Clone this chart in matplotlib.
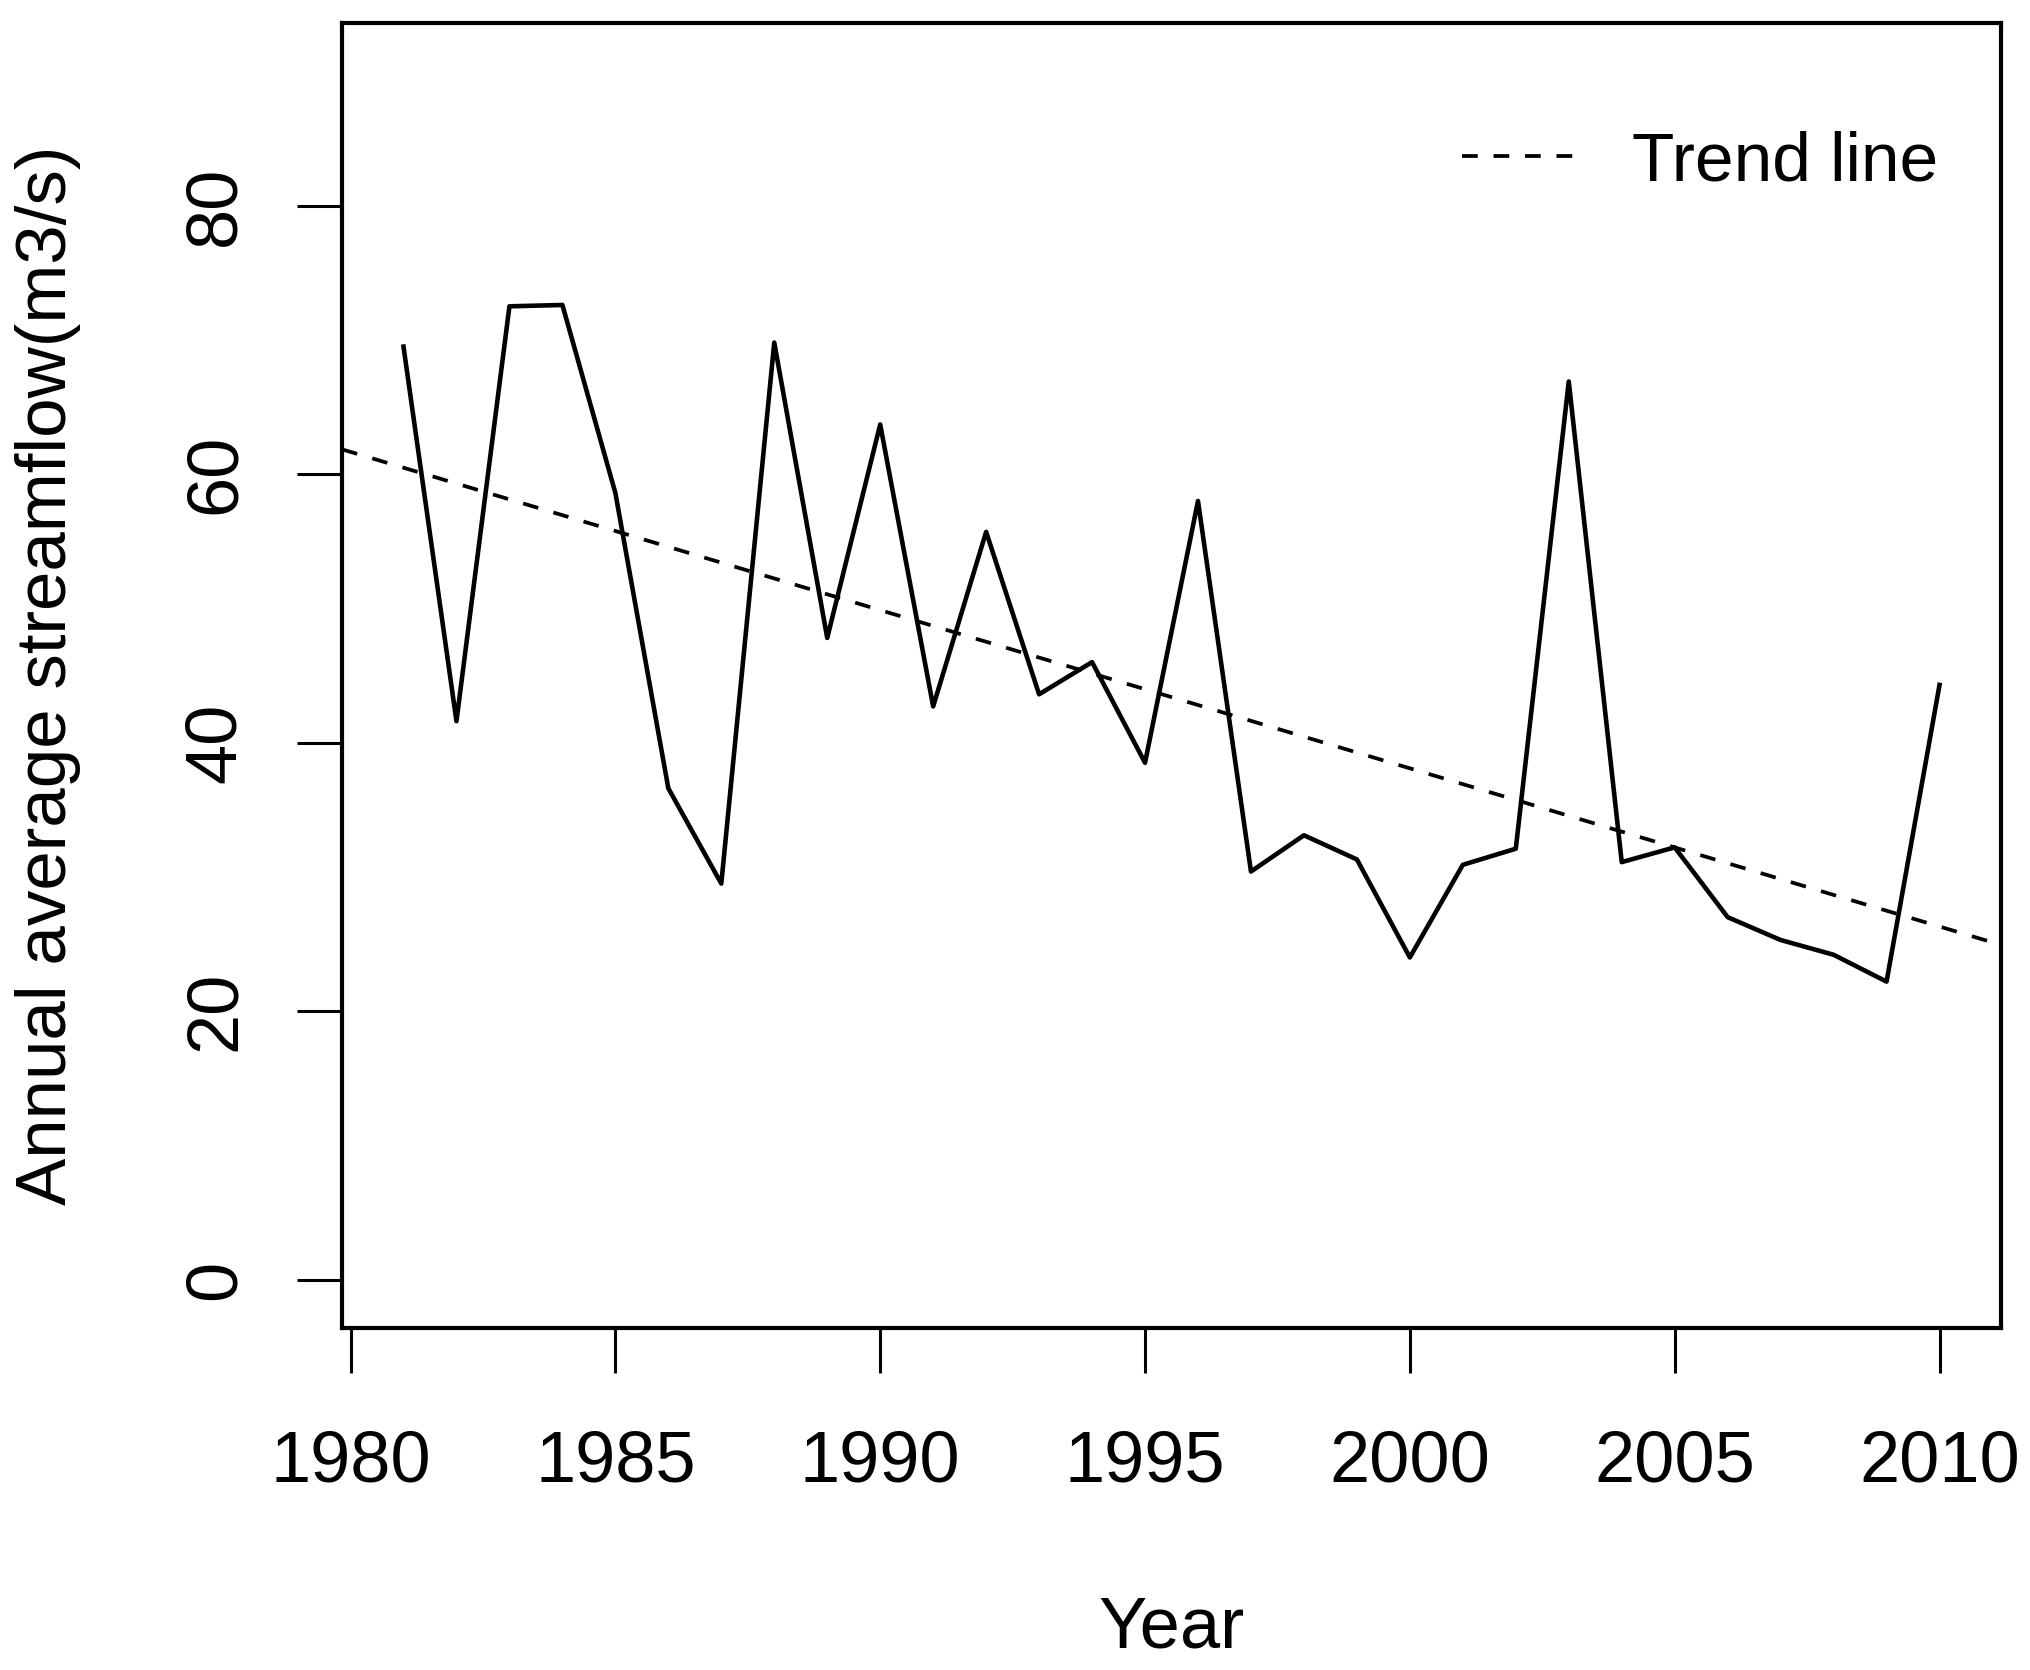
import numpy as np
import matplotlib.pyplot as plt

# annual average streamflow
years = np.arange(1981, 2011)
flow = [69.5, 41.6, 72.5, 72.6, 58.6, 36.6, 29.5, 69.8, 47.8, 63.7,
        42.7, 55.7, 43.6, 46.0, 38.5, 58.0, 30.4, 33.1, 31.3, 24.0,
        30.9, 32.1, 66.9, 31.1, 32.2, 27.0, 25.3, 24.2, 22.2, 44.3]
xticks = [1980, 1985, 1990, 1995, 2000, 2005, 2010]
yticks = [0, 20, 40, 60, 80]

plt.rcParams['font.family'] = ['Liberation Sans', 'DejaVu Sans']

fig = plt.figure(figsize=(20.3, 16.7), dpi=100)
ax = fig.add_axes([0.1685, 0.2048, 0.8172, 0.7814])

ax.plot(years, flow, color="black", lw=3.3)

# linear trend (least squares), drawn across the whole panel like abline
slope, icpt = np.polyfit(years, flow, 1)
ax.axline((1980, icpt + slope * 1980), slope=slope, color="black", lw=2.7,
          linestyle=(0, (4.2, 4.2)), label="Trend line")

ax.set_xlim(1979.84, 2011.16)
ax.set_ylim(-3.6, 93.6)
ax.set_xticks(xticks)
ax.set_yticks(yticks)
ax.tick_params(labelsize=52, length=32.4, width=2.2)
ax.tick_params(axis="x", pad=41)
ax.tick_params(axis="y", pad=34)
plt.setp(ax.get_yticklabels(), rotation=90, va="center")
for s in ax.spines.values():
    s.set_linewidth(3.0)

ax.set_xlabel("Year", fontsize=52)
ax.set_ylabel("Annual average streamflow(m3/s)", fontsize=51)
ax.xaxis.label.set_va("center")
ax.yaxis.label.set_va("center")
ax.xaxis.set_label_coords(0.5, -0.2307)
ax.yaxis.set_label_coords(-0.177, 0.5)

ax.legend(loc="center right", bbox_to_anchor=(0.962, 0.893), frameon=False,
          fontsize=50, handlelength=1.75, handletextpad=0.7,
          borderpad=0, borderaxespad=0)

fig.savefig("out.png", dpi=100)
